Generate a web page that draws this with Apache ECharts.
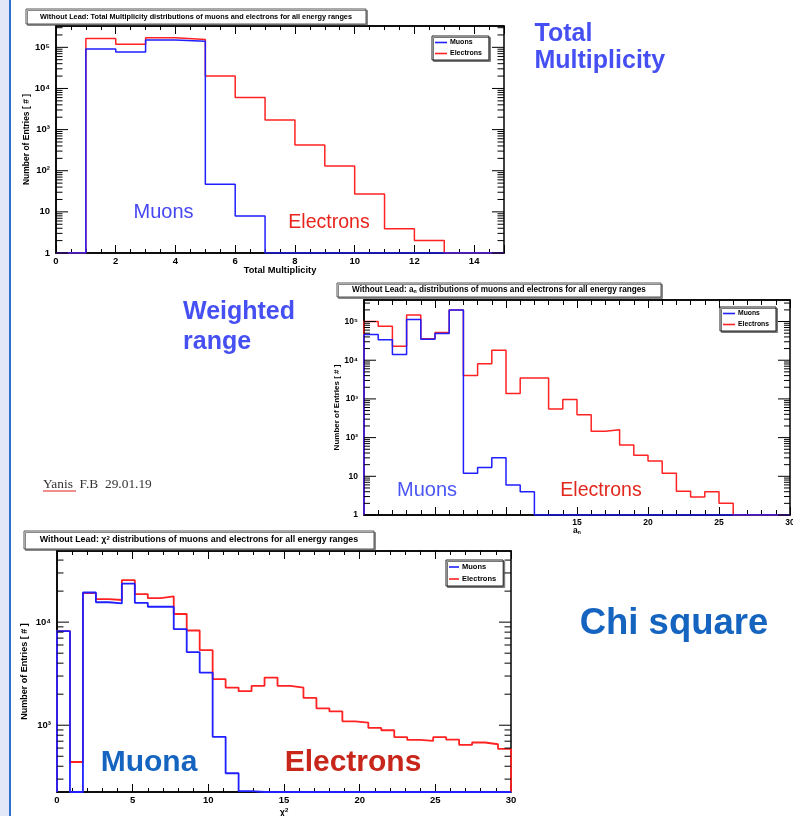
<!DOCTYPE html>
<html>
<head>
<meta charset="utf-8">
<script src="https://cdn.jsdelivr.net/npm/echarts@6/dist/echarts.min.js"></script>
<style>
  html, body { margin: 0; padding: 0; background: #fff; }
  #main { width: 793px; height: 816px; }
</style>
</head>
<body>
<div id="main"></div>
<script>
// ---- Total multiplicity: 15 bins of width 1 on [0, 15] ----
const multRange = [0, 15];
const multMuons     = [0, 91000, 77000, 150000, 140000, 47, 7.9, 0, 0, 0, 0, 0, 0, 0, 0];
const multElectrons = [0, 165000, 118000, 170000, 156000, 20000, 6000, 1720, 420, 130, 27, 3.9, 2, 0, 0];

// ---- a_n (weighted range): 30 bins of width 1 on [0, 30] ----
const anRange = [0, 30];
const anMuons     = [46000, 34000, 14000, 112000, 35000, 49000, 200000, 12, 17, 30, 6, 4,
                     0, 0, 0, 0, 0, 0, 0, 0, 0, 0, 0, 0, 0, 0, 0, 0, 0, 0];
const anElectrons = [100000, 75000, 23000, 148000, 36000, 52000, 200000, 4000, 8100, 18000,
                     1390, 3470, 3470, 550, 960, 390, 145, 160, 64, 35,
                     25, 12, 4.1, 2.9, 4, 2, 0, 0, 0, 0];

// ---- chi-square: 35 bins on [0, 30] ----
const chiRange = [0, 30];
const chiMuons     = [8190, 0, 19400, 15600, 15200, 23600, 15400, 14100, 14100, 8550,
                      5120, 3240, 771, 342, 229, 0, 0, 0, 0, 0,
                      0, 0, 0, 0, 0, 0, 0, 0, 0, 0, 0, 0, 0, 0, 0];
const chiElectrons = [8190, 440, 19100, 16700, 16400, 25600, 18700, 17100, 17800, 12000,
                      8300, 5350, 2800, 2320, 2140, 2410, 2900, 2410, 2320, 1840,
                      1460, 1360, 1090, 1060, 942, 894, 765, 720, 705, 765,
                      726, 644, 680, 654, 589];

// y ranges of the three log axes
const multY = [1, 330000];
const anY   = [1, 360000];
const chiY  = [225, 49000];

const seriesNames = ['Muons', 'Electrons'];
const titles = [
  'Without Lead: Total Multiplicity distributions of muons and electrons for all energy ranges',
  'Without Lead: a{s|n} distributions of muons and electrons for all energy ranges',
  'Without Lead: \u03C7{p|2} distributions of muons and electrons for all energy ranges'
];

const FONT = '"Liberation Sans", Arial, Helvetica, sans-serif';
const BLUE = '#1f1fff';
const RED = '#ff2222';
const SUP = ['\u2070', '\u00B9', '\u00B2', '\u00B3', '\u2074', '\u2075', '\u2076'];

// Step outline of a histogram; empty bins sit on the axis floor like ROOT draws them.
function histPoints(range, counts, floor) {
  const w = (range[1] - range[0]) / counts.length;
  const pts = [[range[0], floor]];
  counts.forEach((c, i) => pts.push([range[0] + i * w, Math.max(c, floor)]));
  pts.push([range[1], Math.max(counts[counts.length - 1], floor)]);
  pts.push([range[1], floor]);
  return pts;
}

function decadeLabel(v) {
  const e = Math.log10(v);
  const r = Math.round(e);
  if (Math.abs(e - r) > 1e-6) return '';
  if (r === 0) return '1';
  if (r === 1) return '10';
  return '10' + SUP[r];
}

// Major (decade) and minor (2..9) tick values of a log axis
function logTicks(yr, majorLen, minorLen) {
  const out = [];
  for (let d = Math.floor(Math.log10(yr[0])); d <= Math.ceil(Math.log10(yr[1])); d++) {
    for (let k = 1; k <= 9; k++) {
      const v = k * Math.pow(10, d);
      if (v >= yr[0] && v <= yr[1]) out.push([v, k === 1 ? majorLen : minorLen]);
    }
  }
  return out;
}

function tickSeries(idx, xr, yr, majorLen, minorLen) {
  return {
    type: 'custom', xAxisIndex: idx * 2, yAxisIndex: idx, silent: true, z: 5,
    data: logTicks(yr, majorLen, minorLen).map(t => [xr[0], t[0], t[1]]),
    renderItem(params, api) {
      const v = api.value(1), len = api.value(2);
      const l = api.coord([xr[0], v]);
      const r = api.coord([xr[1], v]);
      return {
        type: 'group', children: [
          { type: 'line', shape: { x1: l[0], y1: l[1], x2: l[0] + len, y2: l[1] }, style: { stroke: '#000', lineWidth: 1 } },
          { type: 'line', shape: { x1: r[0], y1: r[1], x2: r[0] - len, y2: r[1] }, style: { stroke: '#000', lineWidth: 1 } }
        ]
      };
    }
  };
}

function histSeries(idx, name, color, range, counts, floor, width) {
  return {
    type: 'line', name, step: 'end', xAxisIndex: idx * 2, yAxisIndex: idx,
    data: histPoints(range, counts, floor), showSymbol: false, symbol: 'none',
    lineStyle: { color, width }, itemStyle: { color }, clip: true, z: 3
  };
}

function xAxes(idx, xr, interval, split, majorLen, minorLen, fmt, name, nameFont, nameGap, labelSize) {
  const base = {
    type: 'value', gridIndex: idx, min: xr[0], max: xr[1], interval,
    splitLine: { show: false },
    axisLine: { show: true, lineStyle: { color: '#000', width: 1.5 } },
    axisTick: { show: true, inside: true, length: majorLen, lineStyle: { color: '#000', width: 1 } },
    minorTick: { show: true, splitNumber: split, length: minorLen, lineStyle: { color: '#000', width: 1 } }
  };
  return [
    Object.assign({}, base, {
      position: 'bottom',
      axisLabel: { show: true, margin: 3, color: '#000', fontFamily: FONT, fontWeight: 'bold', fontSize: labelSize, formatter: fmt },
      name, nameLocation: 'middle', nameGap, nameMoveOverlap: false,
      nameTextStyle: Object.assign({ color: '#000', fontFamily: FONT, fontWeight: 'bold' }, nameFont)
    }),
    Object.assign({}, base, { position: 'top', axisLabel: { show: false } })
  ];
}

function yAxis(idx, yr, labelSize, nameSize, nameGap) {
  return {
    type: 'log', logBase: 10, gridIndex: idx, min: yr[0], max: yr[1],
    splitLine: { show: false },
    axisLine: { show: true, lineStyle: { color: '#000', width: 1.5 } },
    axisTick: { show: false }, minorTick: { show: false },
    axisLabel: { margin: 6, color: '#000', fontFamily: FONT, fontWeight: 'bold', fontSize: labelSize, formatter: decadeLabel },
    name: 'Number of Entries [ # ]', nameLocation: 'middle', nameGap, nameRotate: 90, nameMoveOverlap: false,
    nameTextStyle: { color: '#000', fontFamily: FONT, fontWeight: 'bold', fontSize: nameSize }
  };
}

function legend(left, top, size, iw) {
  return {
    data: seriesNames, orient: 'vertical', left, top, icon: 'rect',
    itemWidth: iw, itemHeight: 1.6, itemGap: 4,
    padding: [3, 7, 3, 3], backgroundColor: '#fff',
    borderColor: '#222', borderWidth: 1,
    shadowColor: '#777', shadowBlur: 0, shadowOffsetX: 1.5, shadowOffsetY: 1.5,
    textStyle: { fontFamily: FONT, fontWeight: 'bold', fontSize: size, color: '#000', padding: [0, 0, 0, -2] },
    selectedMode: false
  };
}

function titleBox(x, y, w, h, text, size) {
  return {
    type: 'group', children: [
      { type: 'rect', shape: { x, y, width: w, height: h },
        style: { fill: '#fff', stroke: '#555', lineWidth: 1, shadowColor: '#888', shadowOffsetX: 1.5, shadowOffsetY: 1.5, shadowBlur: 0 } },
      { type: 'text', x: x + w / 2, y: y + h / 2,
        style: { text, align: 'center', verticalAlign: 'middle', fill: '#000',
                 font: 'bold ' + size + 'px ' + FONT,
                 rich: { s: { fontSize: size - 3, fontWeight: 'bold', fontFamily: FONT, padding: [4, 0, 0, 0] },
                         p: { fontSize: size - 3, fontWeight: 'bold', fontFamily: FONT, padding: [0, 0, 4, 0] } } } }
    ]
  };
}

function label(x, y, text, size, color, weight, align, family) {
  return { type: 'text', x, y, z: 10,
    style: { text, fill: color, align: align || 'center', verticalAlign: 'middle',
             font: (weight || 'normal') + ' ' + size + 'px ' + (family || FONT) } };
}

const chart = echarts.init(document.getElementById('main'), null, { renderer: 'canvas' });

const option = {
  animation: false,
  backgroundColor: '#fff',
  grid: [
    { left: 56, top: 26, width: 448, height: 227, show: true, borderColor: '#000', borderWidth: 1.5, backgroundColor: '#fff', outerBoundsMode: 'none' },
    { left: 364, top: 300, width: 426, height: 215, show: true, borderColor: '#000', borderWidth: 1.5, backgroundColor: '#fff', outerBoundsMode: 'none' },
    { left: 57, top: 551, width: 454, height: 241, show: true, borderColor: '#000', borderWidth: 1.5, backgroundColor: '#fff', outerBoundsMode: 'none' }
  ],
  xAxis: [].concat(
    xAxes(0, multRange, 2, 4, 8, 4, v => (v % 2 === 0 ? String(v) : ''), 'Total Multiplicity', { fontSize: 9.3 }, 13, 9.5),
    xAxes(1, anRange, 5, 5, 8, 5, v => (v >= 15 ? String(v) : ''), 'a{s|n}',
          { fontSize: 8.5, rich: { s: { fontSize: 5, fontWeight: 'bold', fontFamily: FONT, padding: [4, 0, 0, 0] } } }, 11, 8.5),
    xAxes(2, chiRange, 5, 5, 8, 4, v => String(v), '\u03C7{p|2}',
          { fontSize: 9, rich: { p: { fontSize: 6, fontWeight: 'bold', fontFamily: FONT, padding: [0, 0, 5, 0] } } }, 15, 9.5)
  ),
  yAxis: [
    yAxis(0, multY, 9.5, 8.5, 25),
    yAxis(1, anY, 8.5, 8, 23),
    yAxis(2, chiY, 9.5, 9, 28)
  ],
  legend: [legend(432, 36, 7, 12), legend(720, 307, 6.8, 12), legend(446, 560, 7.5, 10)],
  series: [
    histSeries(0, 'Electrons', RED, multRange, multElectrons, multY[0], 1.5),
    histSeries(0, 'Muons', BLUE, multRange, multMuons, multY[0], 1.5),
    histSeries(1, 'Electrons', RED, anRange, anElectrons, anY[0], 1.5),
    histSeries(1, 'Muons', BLUE, anRange, anMuons, anY[0], 1.5),
    histSeries(2, 'Electrons', RED, chiRange, chiElectrons, chiY[0], 1.8),
    histSeries(2, 'Muons', BLUE, chiRange, chiMuons, chiY[0], 1.8),
    tickSeries(0, multRange, multY, 12, 6.5),
    tickSeries(1, anRange, anY, 12, 6),
    tickSeries(2, chiRange, chiY, 12, 6.5)
  ],
  graphic: [
    // slide margin
    { type: 'rect', shape: { x: 0, y: 0, width: 9, height: 816 }, style: { fill: '#e2e8f7' } },
    { type: 'rect', shape: { x: 9, y: 0, width: 2, height: 816 }, style: { fill: '#2f6fd0' } },

    titleBox(26, 9, 340, 15, titles[0], 7.3),
    titleBox(337, 283, 324, 14, titles[1], 8.2),
    titleBox(24, 531, 350, 18, titles[2], 8.9),

    label(163.5, 212, 'Muons', 20, '#4646f2'),
    label(329, 223, 'Electrons', 19.5, '#e8231c'),
    label(427, 490.5, 'Muons', 20, '#4a55f5'),
    label(601, 491, 'Electrons', 19.5, '#e2281c'),
    label(149, 763, 'Muona', 30, '#1565c0', 'bold'),
    label(353, 763, 'Electrons', 30, '#c8261a', 'bold'),

    label(534.5, 34, 'Total', 25, '#4650f2', 'bold', 'left'),
    label(534.5, 61, 'Multiplicity', 25, '#4650f2', 'bold', 'left'),
    label(183, 312.5, 'Weighted', 25, '#4650f2', 'bold', 'left'),
    label(183, 342, 'range', 25, '#4650f2', 'bold', 'left'),
    label(674, 624, 'Chi square', 36.5, '#1565c0', 'bold'),

    label(43, 484, 'Yanis  F.B  29.01.19', 13.4, '#333', 'normal', 'left', '"Liberation Serif", "Times New Roman", serif'),
    { type: 'rect', shape: { x: 43, y: 490.5, width: 33, height: 1 }, style: { fill: '#e02020' } }
  ]
};

chart.setOption(option);
</script>
</body>
</html>
